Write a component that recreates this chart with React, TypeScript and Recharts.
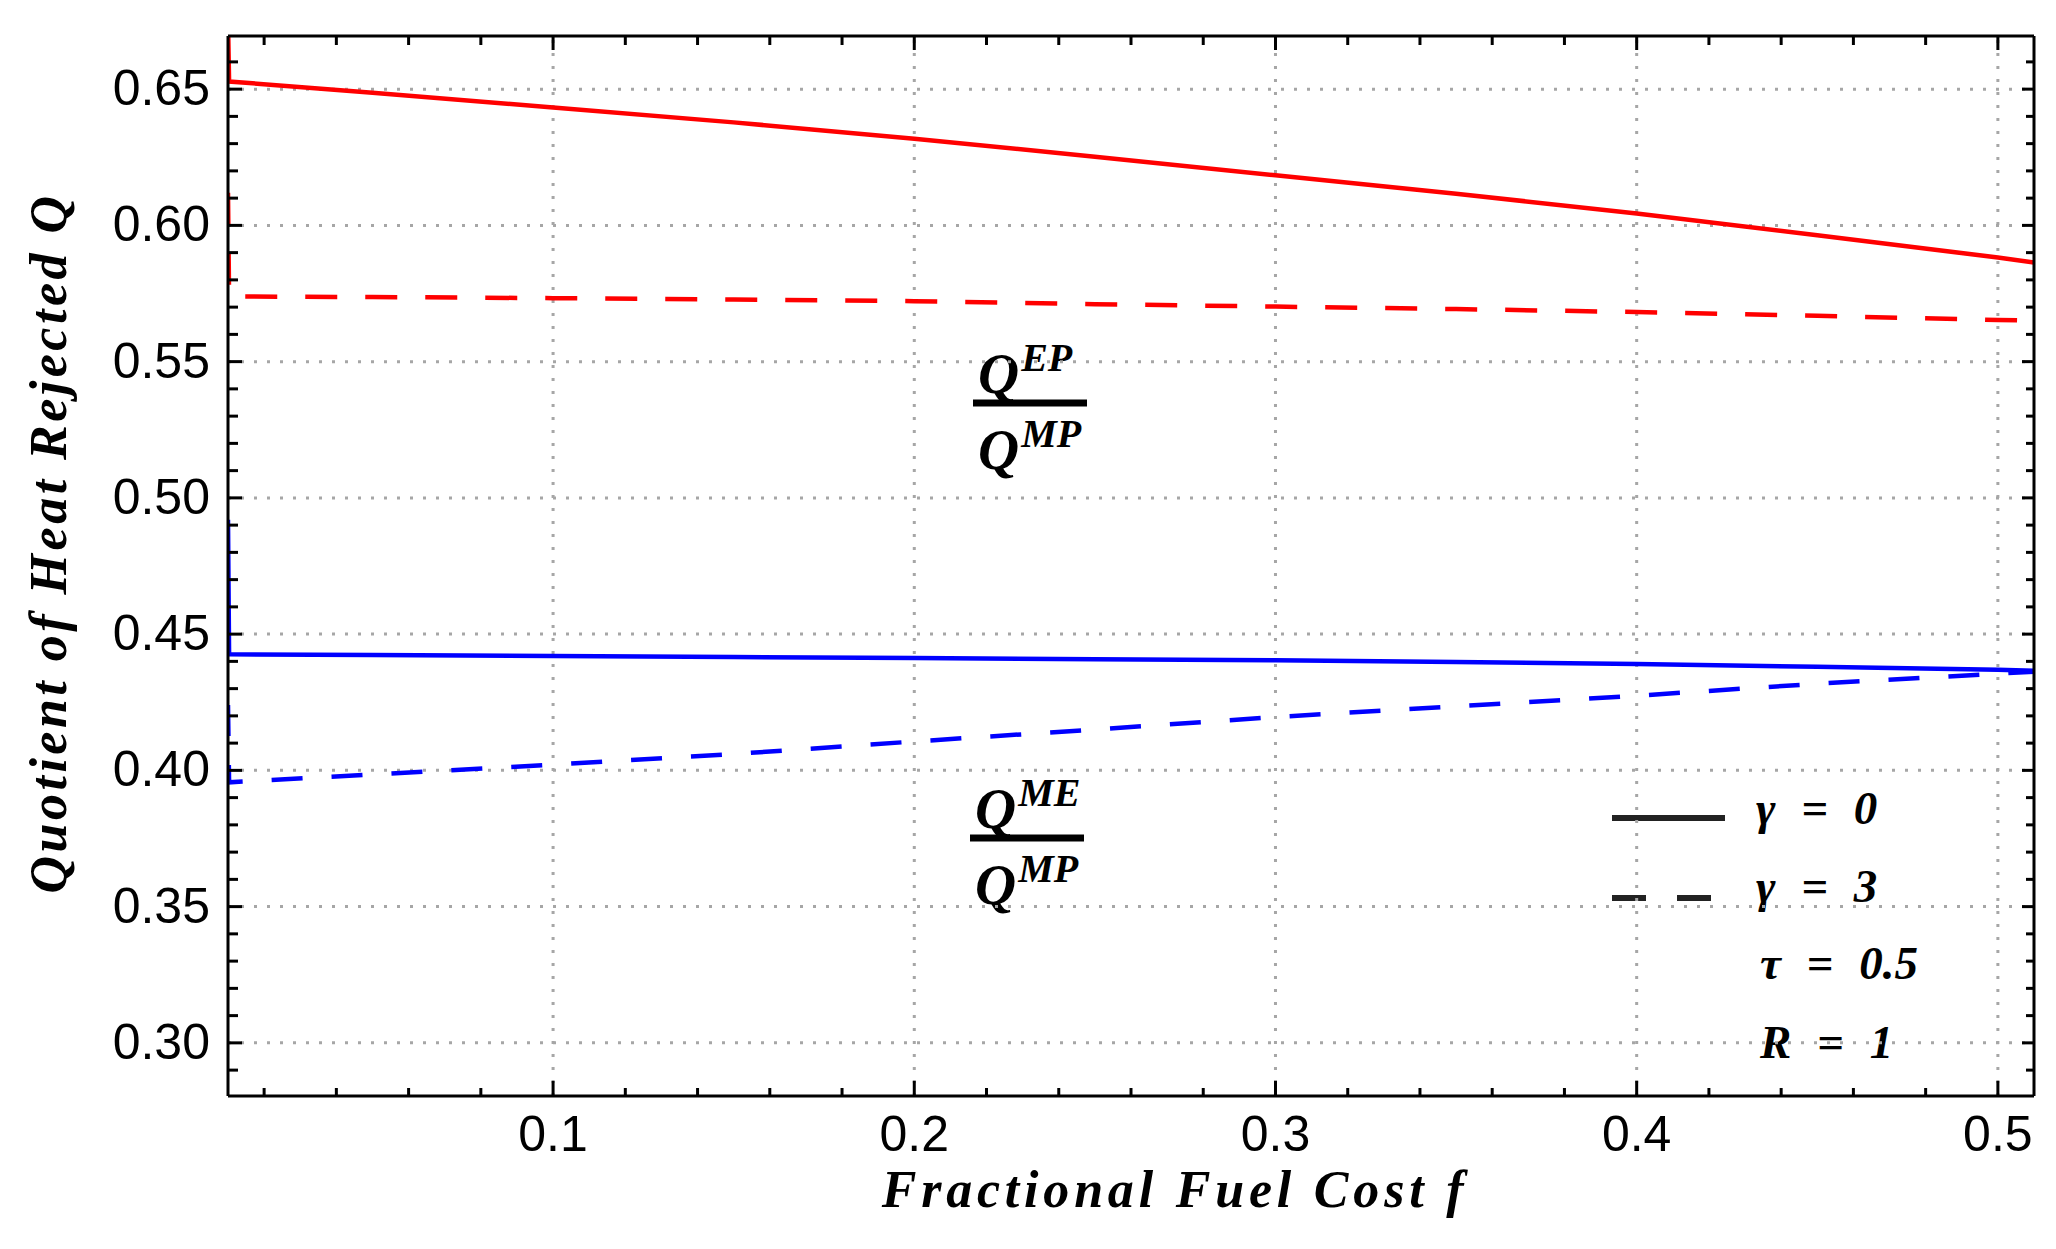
import { LineChart, Line, XAxis, YAxis, ReferenceLine } from 'recharts';

// fractional fuel cost f (x) and the four quotient curves
const fValues = [0.01, 0.0103, 0.05, 0.1, 0.15, 0.2, 0.25, 0.3, 0.35, 0.4, 0.45, 0.5, 0.51];
const epSolid = [0.675, 0.6528, 0.6487, 0.6433, 0.6378, 0.6318, 0.6252, 0.6184, 0.6116, 0.6044, 0.5964, 0.5882, 0.5864];
const epDashed = [0.612, 0.5739, 0.5737, 0.5733, 0.5728, 0.5722, 0.5711, 0.5702, 0.5693, 0.5682, 0.5668, 0.5653, 0.565];
const meSolid = [0.492, 0.4426, 0.4423, 0.442, 0.4416, 0.4412, 0.4408, 0.4404, 0.4398, 0.439, 0.438, 0.4369, 0.4366];
const meDashed = [0.424, 0.3956, 0.3985, 0.4021, 0.406, 0.4106, 0.415, 0.4196, 0.4235, 0.4274, 0.4318, 0.4355, 0.4362];

const xTicks = [
  0.02, 0.04, 0.06, 0.08, 0.1, 0.12, 0.14, 0.16, 0.18, 0.2, 0.22, 0.24, 0.26,
  0.28, 0.3, 0.32, 0.34, 0.36, 0.38, 0.4, 0.42, 0.44, 0.46, 0.48, 0.5,
];
const xMajor = [0.1, 0.2, 0.3, 0.4, 0.5];
const yTicks = [
  0.29, 0.3, 0.31, 0.32, 0.33, 0.34, 0.35, 0.36, 0.37, 0.38, 0.39, 0.4, 0.41,
  0.42, 0.43, 0.44, 0.45, 0.46, 0.47, 0.48, 0.49, 0.5, 0.51, 0.52, 0.53, 0.54,
  0.55, 0.56, 0.57, 0.58, 0.59, 0.6, 0.61, 0.62, 0.63, 0.64, 0.65, 0.66,
];
const yMajor = [0.3, 0.35, 0.4, 0.45, 0.5, 0.55, 0.6, 0.65];

const legendItems = [
  { label: 'γ = 0', dash: undefined },
  { label: 'γ = 3', dash: '34 31' },
];
const legendParams = ['τ = 0.5', 'R = 1'];

const chartData = fValues.map((f, i) => ({
  f,
  epSolid: epSolid[i],
  epDashed: epDashed[i],
  meSolid: meSolid[i],
  meDashed: meDashed[i],
}));

const RED = '#ff0000';
const BLUE = '#0000ff';
const GRID = '#a6a6a6';
const SERIF = '"Liberation Serif", "Times New Roman", serif';
const SANS = '"Liberation Sans", Arial, sans-serif';

const isMajor = (v: number, majors: number[]) =>
  majors.some((m) => Math.abs(m - v) < 1e-9);

const BottomTick = ({ x, y, payload }: any) => {
  const major = isMajor(payload.value, xMajor);
  return (
    <g>
      <line x1={x} y1={y} x2={x} y2={y - (major ? 15 : 8)} stroke="#000" strokeWidth={3} />
      {major && (
        <text x={x} y={y + 55} textAnchor="middle" fontFamily={SANS} fontSize={50} fill="#000">
          {String(payload.value)}
        </text>
      )}
    </g>
  );
};

const TopTick = ({ x, y, payload }: any) => {
  const major = isMajor(payload.value, xMajor);
  return <line x1={x} y1={y} x2={x} y2={y + (major ? 14 : 9)} stroke="#000" strokeWidth={3} />;
};

const LeftTick = ({ x, y, payload }: any) => {
  const major = isMajor(payload.value, yMajor);
  return (
    <g>
      <line x1={x} y1={y} x2={x + (major ? 14 : 10)} y2={y} stroke="#000" strokeWidth={3} />
      {major && (
        <text x={x - 18} y={y} dy="0.32em" textAnchor="end" fontFamily={SANS} fontSize={50} fill="#000">
          {payload.value.toFixed(2)}
        </text>
      )}
    </g>
  );
};

const RightTick = ({ x, y, payload }: any) => {
  const major = isMajor(payload.value, yMajor);
  return <line x1={x} y1={y} x2={x - (major ? 12 : 8)} y2={y} stroke="#000" strokeWidth={3} />;
};

// stacked fraction label  Q^top / Q^bottom
const Fraction = ({ x, y, top, bottom }: { x: number; y: number; top: string; bottom: string }) => (
  <g fontFamily={SERIF} fontWeight="bold" fontStyle="italic" fill="#000">
    <text x={x + 5} y={y - 10} fontSize={57}>
      Q<tspan fontSize={40} dx={2} dy={-22}>{top}</tspan>
    </text>
    <line x1={x} y1={y} x2={x + 114} y2={y} stroke="#000" strokeWidth={7} />
    <text x={x + 5} y={y + 66} fontSize={57}>
      Q<tspan fontSize={40} dx={2} dy={-22}>{bottom}</tspan>
    </text>
  </g>
);

const App = () => {
  return (
    <div style={{ width: 2040, height: 1233 }}>
      <LineChart
        width={2040}
        height={1233}
        data={chartData}
        margin={{ top: 27, right: 13, bottom: 45, left: 20 }}
      >
        <XAxis
          dataKey="f"
          type="number"
          domain={[0.01, 0.51]}
          ticks={xTicks}
          interval={0}
          tickSize={0}
          tickMargin={0}
          tick={(p: any) => <BottomTick {...p} />}
          axisLine={{ stroke: '#000', strokeWidth: 3 }}
          height={100}
          allowDataOverflow
        />
        <XAxis
          xAxisId="top"
          orientation="top"
          dataKey="f"
          type="number"
          domain={[0.01, 0.51]}
          ticks={xTicks}
          interval={0}
          tickSize={0}
          tickMargin={0}
          tick={(p: any) => <TopTick {...p} />}
          axisLine={{ stroke: '#000', strokeWidth: 3 }}
          height={1}
          allowDataOverflow
        />
        <YAxis
          type="number"
          domain={[0.2805, 0.6695]}
          ticks={yTicks}
          interval={0}
          tickSize={0}
          tickMargin={0}
          tick={(p: any) => <LeftTick {...p} />}
          axisLine={{ stroke: '#000', strokeWidth: 3 }}
          width={200}
          allowDataOverflow
        />
        <YAxis
          yAxisId="right"
          orientation="right"
          type="number"
          domain={[0.2805, 0.6695]}
          ticks={yTicks}
          interval={0}
          tickSize={0}
          tickMargin={0}
          tick={(p: any) => <RightTick {...p} />}
          axisLine={{ stroke: '#000', strokeWidth: 3 }}
          width={1}
          allowDataOverflow
        />
        {xMajor.map((v) => (
          <ReferenceLine key={`gx${v}`} x={v} stroke={GRID} strokeWidth={3} strokeDasharray="3 10" />
        ))}
        {yMajor.map((v) => (
          <ReferenceLine key={`gy${v}`} y={v} stroke={GRID} strokeWidth={3} strokeDasharray="3 10" />
        ))}
        <Line dataKey="epSolid" type="linear" stroke={RED} strokeWidth={4.5} dot={false} isAnimationActive={false} />
        <Line dataKey="epDashed" type="linear" stroke={RED} strokeWidth={4.5} strokeDasharray="32 28" dot={false} isAnimationActive={false} />
        <Line dataKey="meSolid" type="linear" stroke={BLUE} strokeWidth={4.5} dot={false} isAnimationActive={false} />
        <Line dataKey="meDashed" type="linear" stroke={BLUE} strokeWidth={4.5} strokeDasharray="31 29" dot={false} isAnimationActive={false} />

        <text
          x={1167}
          y={1199}
          textAnchor="middle"
          fontFamily={SERIF}
          fontWeight="bold"
          fontStyle="italic"
          fontSize={52}
          letterSpacing={4.8}
          fill="#000"
        >
          Fractional Fuel Cost f
        </text>
        <text
          transform="translate(58, 535) rotate(-90)"
          textAnchor="middle"
          fontFamily={SERIF}
          fontWeight="bold"
          fontStyle="italic"
          fontSize={52}
          letterSpacing={3.5}
          fill="#000"
        >
          Quotient of Heat Rejected Q
        </text>

        <Fraction x={965} y={395} top="EP" bottom="MP" />
        <Fraction x={962} y={830} top="ME" bottom="MP" />

        <g fontFamily={SERIF} fontWeight="bold" fontStyle="italic" fontSize={47} fill="#000">
          {legendItems.map((item, i) => (
            <g key={item.label}>
              <line
                x1={1604}
                y1={810 + i * 80}
                x2={1717}
                y2={810 + i * 80}
                stroke="#222"
                strokeWidth={6}
                strokeDasharray={item.dash}
              />
              <text x={1748} y={816 + i * 78} wordSpacing={14}>
                {item.label}
              </text>
            </g>
          ))}
          {legendParams.map((p, i) => (
            <text key={p} x={1752} y={971 + i * 79} wordSpacing={14}>
              {p}
            </text>
          ))}
        </g>
      </LineChart>
    </div>
  );
};

export default App;
